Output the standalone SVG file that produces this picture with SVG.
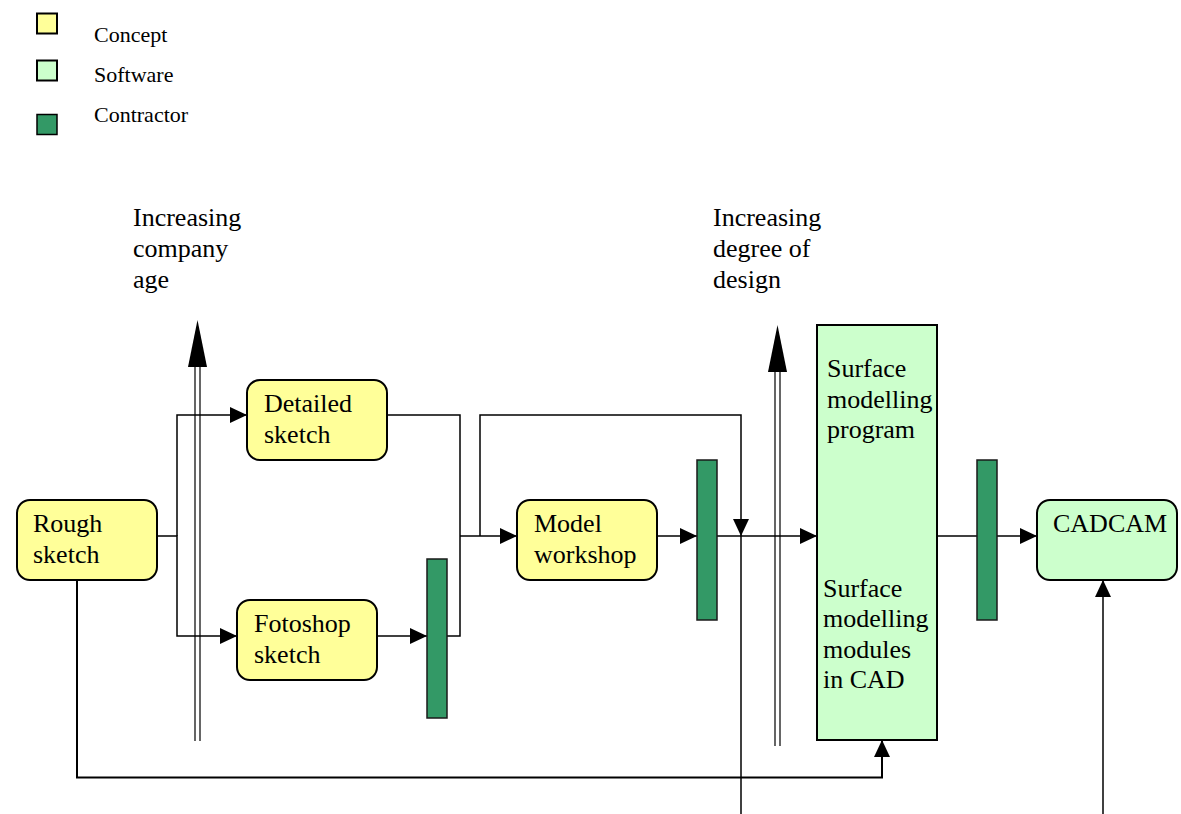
<svg xmlns="http://www.w3.org/2000/svg" width="1181" height="814" viewBox="0 0 1181 814" font-family="'Liberation Serif', 'Times New Roman', Times, 'DejaVu Serif', serif">
<style>
text{font-family:'Liberation Serif','Times New Roman',Times,'DejaVu Serif',serif;fill:#000}
.n{font-size:26px}
.lg{font-size:22px}
.concept{fill:#FFFF99;stroke:#000;stroke-width:2}
.soft{fill:#CCFFCC;stroke:#000;stroke-width:2}
.bar{fill:#339966;stroke:#1a1a1a;stroke-width:1.5}
.c{fill:none;stroke:#000;stroke-width:1.5}
.thin{fill:none;stroke:#000;stroke-width:1.2}
</style>
<defs>
<marker id="ah" markerUnits="userSpaceOnUse" markerWidth="18" markerHeight="16" refX="17" refY="8" orient="auto">
<path d="M0,0 L17,8 L0,16 Z" fill="#000"/>
</marker>
</defs>
<g id="legend">
<rect x="37" y="13.5" width="20" height="20" class="concept" stroke-width="1.5"/>
<text x="94" y="41.5" class="lg">Concept</text>
<rect x="37" y="60.5" width="20" height="20" class="soft" stroke-width="1.5"/>
<text x="94" y="81.5" class="lg">Software</text>
<rect x="37" y="114.5" width="20" height="20" class="bar" style="stroke:#000"/>
<text x="94" y="121.5" class="lg">Contractor</text>
</g>
<g id="label-age">
<text x="133" y="226" class="n">Increasing</text>
<text x="133" y="257" class="n">company</text>
<text x="133" y="288" class="n">age</text>
</g>
<g id="label-design">
<text x="713" y="226" class="n">Increasing</text>
<text x="713" y="257" class="n">degree of</text>
<text x="713" y="288" class="n">design</text>
</g>
<g id="connectors">
<path class="c" d="M157,536 H177 V636 H237" marker-end="url(#ah)"/>
<path class="c" d="M177,536 V415 H247" marker-end="url(#ah)"/>
<path class="c" d="M377,636 H427" marker-end="url(#ah)"/>
<path class="c" d="M387,415 H460 V636 H447"/>
<path class="c" d="M460,536 H517" marker-end="url(#ah)"/>
<path class="c" d="M480,536 V415 H741 V536" marker-end="url(#ah)"/>
<path class="c" d="M657,536 H697" marker-end="url(#ah)"/>
<path class="c" d="M717,536 H817" marker-end="url(#ah)"/>
<path class="c" d="M741,536 V814"/>
<path class="c" style="stroke-width:2" d="M77,580 V777.5 H882 V740" marker-end="url(#ah)"/>
<path class="c" d="M937,536 H977"/>
<path class="c" d="M997,536 H1037" marker-end="url(#ah)"/>
<path class="c" d="M1103,814 V580" marker-end="url(#ah)"/>
</g>
<g id="axis-age">
<path class="thin" d="M195,366 V741 M200,366 V741"/>
<path d="M188,367 L207,367 L197.5,320 Z" fill="#000"/>
</g>
<g id="axis-design">
<path class="thin" d="M775,371 V746 M780,371 V746"/>
<path d="M768,372 L787,372 L777.5,325 Z" fill="#000"/>
</g>
<g id="rough-sketch">
<rect x="17" y="500" width="140" height="80" rx="13" class="concept"/>
<text x="33" y="532" class="n">Rough</text>
<text x="33" y="563" class="n">sketch</text>
</g>
<g id="detailed-sketch">
<rect x="247" y="380" width="140" height="80" rx="13" class="concept"/>
<text x="264" y="412" class="n">Detailed</text>
<text x="264" y="443" class="n">sketch</text>
</g>
<g id="fotoshop-sketch">
<rect x="237" y="600" width="140" height="80" rx="13" class="concept"/>
<text x="254" y="632" class="n">Fotoshop</text>
<text x="254" y="663" class="n">sketch</text>
</g>
<g id="contractor-1">
<rect x="427" y="559" width="20" height="159" class="bar"/>
</g>
<g id="model-workshop">
<rect x="517" y="500" width="140" height="80" rx="13" class="concept"/>
<text x="534" y="532" class="n">Model</text>
<text x="534" y="563" class="n">workshop</text>
</g>
<g id="contractor-2">
<rect x="697" y="460" width="20" height="160" class="bar"/>
</g>
<g id="surface-modelling">
<rect x="817" y="325" width="120" height="415" class="soft" stroke-width="1.5"/>
<text x="827" y="377" class="n">Surface</text>
<text x="827" y="408" class="n">modelling</text>
<text x="827" y="438" class="n">program</text>
<text x="823" y="597" class="n">Surface</text>
<text x="823" y="627" class="n">modelling</text>
<text x="823" y="658" class="n">modules</text>
<text x="823" y="688" class="n">in CAD</text>
</g>
<g id="contractor-3">
<rect x="977" y="460" width="20" height="160" class="bar"/>
</g>
<g id="cadcam">
<rect x="1037" y="500" width="140" height="80" rx="13" class="soft"/>
<text x="1053" y="532" class="n">CADCAM</text>
</g>
</svg>
